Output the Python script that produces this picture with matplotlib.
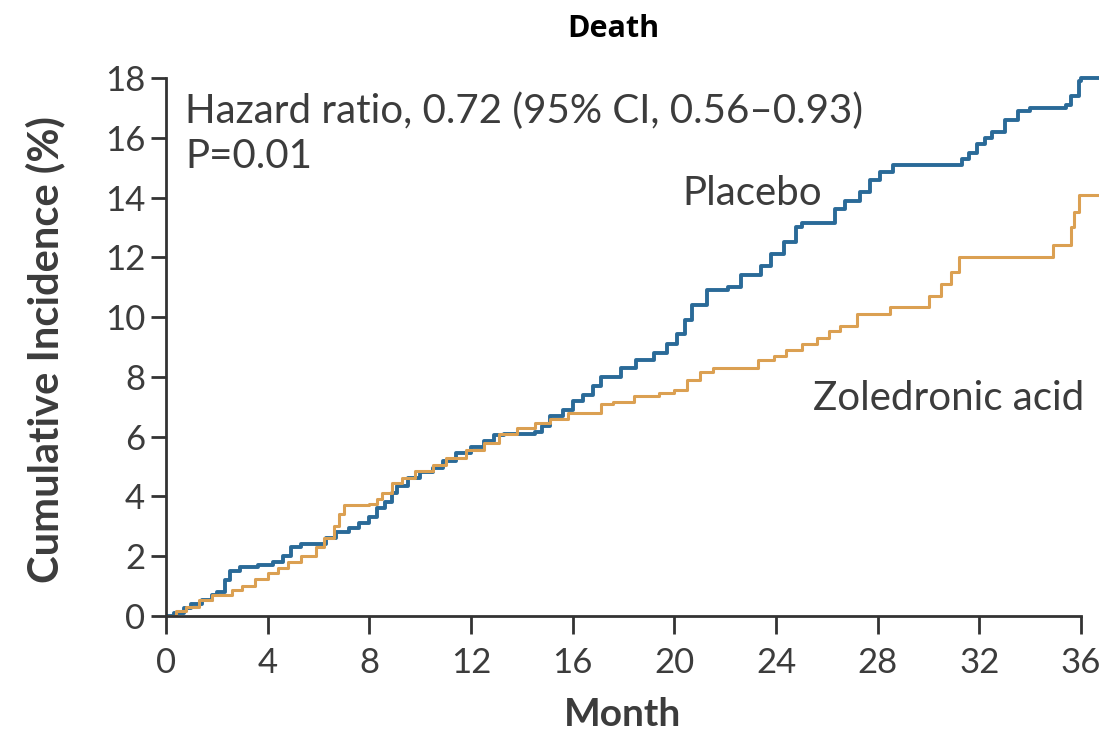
import numpy as np
import matplotlib
matplotlib.use("Agg")
import matplotlib.pyplot as plt

# cumulative incidence of death (%), step points read per month
placebo_month = [0.0, 0.3, 0.7, 1.0, 1.4, 1.8, 2.0, 2.3, 2.5, 2.9, 3.6, 4.2, 4.6, 4.9, 5.3,
                 6.3, 6.7, 7.2, 7.6, 8.0, 8.3, 8.6, 8.9, 9.1, 9.5, 10.0, 10.5, 10.9, 11.4,
                 12.0, 12.5, 12.9, 13.3, 14.5, 14.8, 15.1, 15.6, 16.0, 16.4, 16.8, 17.1,
                 17.9, 18.5, 19.2, 19.7, 20.1, 20.4, 20.7, 21.3, 22.1, 22.6, 23.4, 23.8,
                 24.3, 24.8, 25.0, 26.3, 26.7, 27.3, 27.7, 28.1, 28.6, 31.3, 31.6, 31.9,
                 32.2, 32.5, 33.0, 33.5, 34.0, 35.4, 35.6, 35.9, 36.0, 36.65]
placebo_pct = [0.0, 0.1, 0.25, 0.4, 0.55, 0.7, 0.8, 1.2, 1.5, 1.65, 1.7, 1.8, 2.0, 2.3, 2.4,
               2.6, 2.8, 2.95, 3.1, 3.3, 3.6, 3.8, 4.1, 4.35, 4.6, 4.8, 4.95, 5.2, 5.45,
               5.65, 5.85, 6.05, 6.1, 6.15, 6.35, 6.7, 6.9, 7.2, 7.4, 7.7, 8.0,
               8.3, 8.55, 8.8, 9.1, 9.45, 9.9, 10.4, 10.9, 11.0, 11.4, 11.7, 12.1,
               12.5, 13.0, 13.15, 13.6, 13.9, 14.2, 14.6, 14.85, 15.1, 15.3, 15.5, 15.8,
               16.0, 16.2, 16.6, 16.9, 17.0, 17.1, 17.4, 17.9, 18.0, 18.0]

zol_month = [0.0, 0.4, 0.8, 1.3, 1.8, 2.6, 3.0, 3.5, 4.0, 4.4, 4.8, 5.3, 5.9, 6.2, 6.6,
             6.8, 7.0, 8.0, 8.3, 8.5, 8.9, 9.3, 9.8, 10.5, 11.0, 11.8, 12.5, 13.1, 13.8,
             14.5, 15.1, 15.8, 17.1, 17.6, 18.4, 19.4, 20.0, 20.5, 21.0, 21.5, 23.3,
             23.9, 24.4, 25.0, 25.6, 26.1, 26.5, 27.2, 28.5, 30.0, 30.5, 30.9, 31.2,
             34.9, 35.6, 35.7, 35.9, 36.65]
zol_pct = [0.0, 0.15, 0.3, 0.55, 0.7, 0.87, 1.0, 1.25, 1.45, 1.6, 1.8, 2.0, 2.3, 2.6, 3.0,
           3.4, 3.7, 3.75, 3.9, 4.1, 4.45, 4.6, 4.85, 5.05, 5.3, 5.55, 5.8, 6.1, 6.3,
           6.45, 6.6, 6.8, 7.1, 7.15, 7.35, 7.45, 7.55, 7.9, 8.15, 8.3, 8.55,
           8.7, 8.9, 9.1, 9.3, 9.55, 9.7, 10.1, 10.35, 10.7, 11.1, 11.5, 12.0,
           12.4, 13.0, 13.5, 14.1, 14.1]

x_ticks = np.arange(0, 37, 4)
y_ticks = np.arange(0, 19, 2)

plt.rcParams['font.family'] = ['Lato', 'DejaVu Sans']
text_grey = '#3c3c3c'
axis_grey = '#333333'

fig = plt.figure(figsize=(11.04, 7.52), dpi=100)
ax = fig.add_axes([0.1504, 0.1809, 0.845, 0.7194])

ax.step(placebo_month, placebo_pct, where='post', color='#2a6a98', lw=2.8)
ax.step(zol_month, zol_pct, where='post', color='#dba052', lw=2.2)

ax.set_xlim(0, 36.7)
ax.set_ylim(0, 18.1)
ax.set_xticks(x_ticks)
ax.set_yticks(y_ticks)

for side in ['top', 'right']:
    ax.spines[side].set_visible(False)
ax.spines['left'].set_bounds(0, 18)
ax.spines['bottom'].set_bounds(0, 36)
for side in ['left', 'bottom']:
    ax.spines[side].set_linewidth(2.0)
    ax.spines[side].set_color(axis_grey)

ax.tick_params(axis='y', length=11, width=2.0, color=axis_grey, labelsize=25,
               labelcolor=text_grey, pad=4)
ax.tick_params(axis='x', length=13, width=2.0, color=axis_grey, labelsize=25,
               labelcolor=text_grey, pad=9)

ax.set_ylabel('Cumulative Incidence (%)', fontsize=30, fontweight='bold',
              color=text_grey, va='center')
ax.yaxis.set_label_coords(-0.1297, 0.4917)
ax.set_xlabel('Month', fontsize=28, fontweight='bold', color=text_grey, va='center')
ax.xaxis.set_label_coords(0.489, -0.183)

ax.text(0.75, 16.49, 'Hazard ratio, 0.72 (95% CI, 0.56\u20130.93)',
        fontsize=29, color=text_grey, va='baseline', ha='left')
ax.text(0.75, 14.98, 'P=0.01', fontsize=29, color=text_grey, va='baseline', ha='left')
ax.text(20.3, 13.75, 'Placebo', fontsize=29, color=text_grey, va='baseline', ha='left')
ax.text(25.45, 6.89, 'Zoledronic acid', fontsize=29, color=text_grey,
        va='baseline', ha='left')

fig.text(613 / 1104, 1 - 29 / 752, 'Death', fontsize=22, fontweight='bold',
         color='black', ha='center', va='center', family=['Open Sans', 'DejaVu Sans'])

fig.savefig('out.png', dpi=100)
